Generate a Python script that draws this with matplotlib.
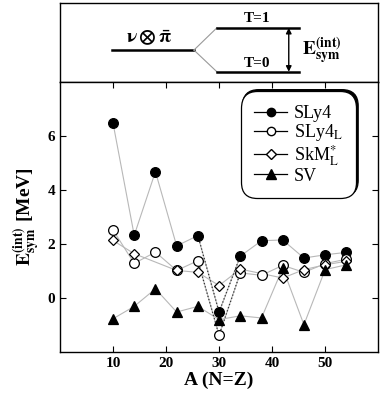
#!/usr/bin/env python3

import numpy as np
import matplotlib
matplotlib.use("Agg")
import matplotlib.pyplot as plt
from matplotlib.lines import Line2D

plt.rcParams['font.family'] = ['Liberation Serif', 'DejaVu Serif']
plt.rcParams['mathtext.fontset'] = 'stix'

# interaction symmetry energy vs A (N=Z), MeV
A_sly4 = [10, 14, 18, 22, 26, 30, 34, 38, 42, 46, 50, 54]
E_sly4 = [6.48, 2.32, 4.68, 1.93, 2.31, -0.52, 1.55, 2.12, 2.15, 1.48, 1.60, 1.69]

A_sly4l = [10, 14, 18, 22, 26, 30, 34, 38, 42, 46, 50, 54]
E_sly4l = [2.52, 1.28, 1.70, 1.02, 1.38, -1.38, 0.93, 0.84, 1.21, 0.95, 1.27, 1.44]

A_skml = [10, 14, 22, 26, 30, 34, 42, 46, 50, 54]
E_skml = [2.13, 1.64, 1.02, 0.95, 0.46, 1.07, 0.74, 1.05, 1.23, 1.36]

A_sv = [10, 14, 18, 22, 26, 30, 34, 38, 42, 46, 50, 54]
E_sv = [-0.77, -0.31, 0.34, -0.52, -0.31, -0.80, -0.66, -0.74, 1.11, -0.99, 1.05, 1.23]

labels = ["SLy4", r"SLy4$_\mathrm{L}$", r"SkM$_\mathrm{L}^{*}$", "SV"]

fig = plt.figure(figsize=(3.82, 3.98), dpi=100)
axt = fig.add_axes([0.157, 0.794, 0.833, 0.198])
ax = fig.add_axes([0.157, 0.1156, 0.833, 0.6784])

# --- schematic level scheme on top ---
axt.set_xlim(0, 1)
axt.set_ylim(0, 1)
axt.set_xticks([])
axt.set_yticks([])
axt.plot([0.163, 0.421], [0.405, 0.405], color="k", lw=1.8)
axt.plot([0.421, 0.493], [0.405, 0.687], color="0.6", lw=0.8)
axt.plot([0.421, 0.493], [0.405, 0.130], color="0.6", lw=0.8)
axt.plot([0.493, 0.752], [0.687, 0.687], color="k", lw=1.8)
axt.plot([0.493, 0.752], [0.130, 0.130], color="k", lw=1.8)
axt.annotate("", xy=(0.719, 0.687), xytext=(0.719, 0.130),
             arrowprops=dict(arrowstyle="<|-|>", color="k", lw=1.0,
                             mutation_scale=8, shrinkA=0, shrinkB=0))
axt.text(0.62, 0.80, "T=1", ha="center", va="center", fontsize=11, fontweight="bold")
axt.text(0.62, 0.24, "T=0", ha="center", va="center", fontsize=11, fontweight="bold")
axt.text(0.28, 0.55, r"$\mathbf{\nu\otimes\bar{\pi}}$", ha="center", va="center", fontsize=14)
axt.text(0.76, 0.40, r"$\mathbf{E^{(int)}_{sym}}$", ha="left", va="center", fontsize=14)

# --- main panel ---
series = [(A_sly4, E_sly4, "o", "k"),
          (A_sly4l, E_sly4l, "o", "white"),
          (A_skml, E_skml, "D", "white"),
          (A_sv, E_sv, "^", "k")]

for A, E, mk, fc in series:
    ms = 5.5 if mk == "D" else 7
    ax.plot(A, E, "-", color="0.72", lw=0.8, zorder=1)
    ax.plot(A, E, " ", marker=mk, markersize=ms, markerfacecolor=fc,
            markeredgecolor="k", markeredgewidth=0.9, zorder=3)

# darker dotted segments around A=30
for A, E in [(A_sly4, E_sly4), (A_sly4l, E_sly4l)]:
    A = np.array(A)
    E = np.array(E)
    sel = (A >= 26) & (A <= 34)
    ax.plot(A[sel], E[sel], ":", color="0.2", lw=0.9, zorder=2)

ax.set_xlim(0, 60)
ax.set_ylim(-2, 8)
ax.set_xticks([10, 20, 30, 40, 50])
ax.set_yticks([0, 2, 4, 6])
ax.tick_params(direction="in", top=True, right=True, length=4, width=0.8,
               labelsize=11)
for lab in ax.get_xticklabels() + ax.get_yticklabels():
    lab.set_fontweight("bold")
for sp in list(ax.spines.values()) + list(axt.spines.values()):
    sp.set_linewidth(1.0)

ax.set_xlabel("A (N=Z)", fontsize=14, fontweight="bold", labelpad=1)
ax.set_ylabel(r"$\mathbf{E^{(int)}_{sym}}$ [MeV]", fontsize=14, fontweight="bold", labelpad=4)

handles = [Line2D([], [], color="k", lw=0.9, marker="o", markersize=6, markerfacecolor="k", markeredgecolor="k"),
           Line2D([], [], color="k", lw=0.9, marker="o", markersize=6, markerfacecolor="white", markeredgecolor="k"),
           Line2D([], [], color="k", lw=0.9, marker="D", markersize=5, markerfacecolor="white", markeredgecolor="k"),
           Line2D([], [], color="k", lw=0.9, marker="^", markersize=7, markerfacecolor="k", markeredgecolor="k")]
leg = ax.legend(handles, labels, loc="upper right", bbox_to_anchor=(0.94, 0.975),
                fontsize=13, handlelength=1.8, handletextpad=0.4, labelspacing=0.0,
                borderpad=0.4, frameon=True, fancybox=True,
                shadow={'ox': 1.3, 'oy': 1.3, 'facecolor': 'k', 'edgecolor': 'k', 'alpha': 1})
leg.get_frame().set_edgecolor("k")
leg.get_frame().set_linewidth(0.9)
leg.get_frame().set_alpha(1)
leg.get_frame().set_boxstyle("round", pad=0.35, rounding_size=0.9)

fig.savefig("out.png", dpi=100)
